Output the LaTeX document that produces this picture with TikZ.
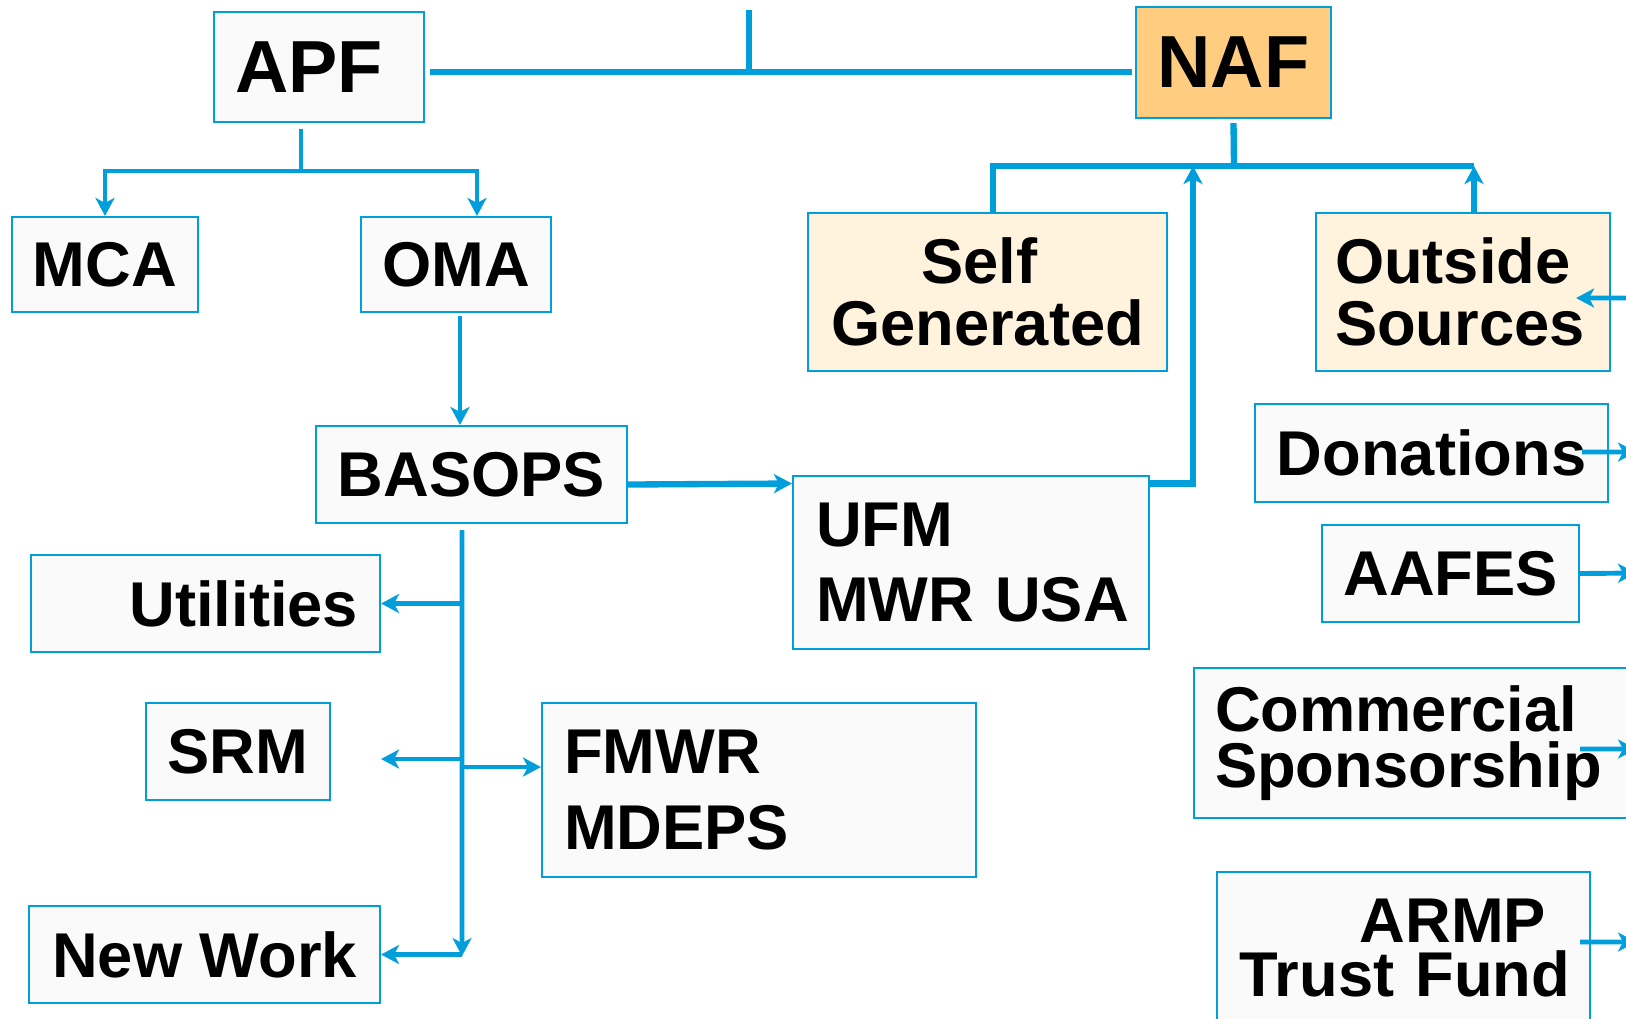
\documentclass[tikz,border=0pt]{standalone}
\usepackage{fontspec}
\setmainfont{Liberation Sans}
\usetikzlibrary{arrows.meta}
\definecolor{linkblue}{RGB}{0,158,219}
\definecolor{boxgrey}{RGB}{250,250,250}
\definecolor{nafgold}{RGB}{255,204,128}
\definecolor{selfcream}{RGB}{255,243,222}
\begin{document}
\begin{tikzpicture}[
		box/.style={draw=linkblue, fill=boxgrey, line width=0.6pt, inner sep=0pt, font=\bfseries\fontsize{18}{21.6}\selectfont},
		big/.style={font=\bfseries\fontsize{21}{24}\selectfont},
		link/.style={draw=linkblue, line width=1.4pt},
		heavy/.style={link, line width=1.8pt},
		>={Stealth[length=1.8mm,width=1.9mm,inset=0.5mm]}
	]
	\clip (0,0) rectangle (16.26,-10.18);
	\node[box, big, minimum width=2.10cm, minimum height=1.10cm] (APF) at (3.19,-0.67) {\mbox{APF\hspace{2mm}}};
	\node[box, big, fill=nafgold, minimum width=1.95cm, minimum height=1.11cm] (NAF) at (12.335,-0.625) {NAF};
	\node[box, minimum width=1.86cm, minimum height=0.95cm] (MCA) at (1.05,-2.645) {MCA};
	\node[box, minimum width=1.90cm, minimum height=0.95cm] (OMA) at (4.56,-2.645) {OMA};
	\node[box, minimum width=3.11cm, minimum height=0.97cm] (BASOPS) at (4.715,-4.745) {BASOPS};
	\node[box, minimum height=1.73cm, text width=3.10cm, inner xsep=0.23cm, align=left] (UFM) at (9.71,-5.625) {UFM\\MWR~USA};
	\node[box, fill=selfcream, minimum height=1.58cm, text width=3.19cm, inner xsep=0.2cm, align=center, font=\bfseries\fontsize{18}{17.6}\selectfont] (SelfGen) at (9.875,-2.92) {\mbox{Self\hspace{1.6mm}}\\Generated};
	\node[box, fill=selfcream, minimum height=1.58cm, text width=2.56cm, inner xsep=0.19cm, align=left, font=\bfseries\fontsize{18}{17.6}\selectfont] (Outside) at (14.63,-2.92) {Outside\\Sources};
	\node[box, minimum width=3.53cm, minimum height=0.98cm] (Donations) at (14.315,-4.53) {Donations};
	\node[box, minimum width=2.57cm, minimum height=0.97cm] (AAFES) at (14.505,-5.735) {AAFES};
	\node[box, minimum height=1.50cm, text width=4.14cm, inner xsep=0.21cm, align=left, font=\bfseries\fontsize{18}{15.9}\selectfont] (Commercial) at (14.22,-7.43) {Commercial\\Sponsorship};
	\node[box, minimum height=1.52cm, text width=3.33cm, inner xsep=0.2cm, align=right, font=\bfseries\fontsize{18}{15.4}\selectfont] (ARMP) at (14.035,-9.48) {\mbox{ARMP\hspace{2.4mm}}\\Trust Fund};
	\node[box, minimum height=0.97cm, text width=3.05cm, inner xsep=0.22cm, align=right] (Utilities) at (2.055,-6.035) {Utilities};
	\node[box, minimum width=1.84cm, minimum height=0.97cm] (SRM) at (2.38,-7.515) {SRM};
	\node[box, minimum width=3.51cm, minimum height=0.97cm] (NewWork) at (2.045,-9.545) {New Work};
	\node[box, minimum height=1.74cm, text width=3.90cm, inner xsep=0.22cm, align=left] (FMWR) at (7.59,-7.90) {FMWR\\MDEPS};
	\coordinate (top) at (7.49,-0.72);
	\coordinate (topstub) at (7.49,-0.10);
	\coordinate (apfbus) at (3.01,-1.71);
	\coordinate (nafbus) at (12.34,-1.66);
	\coordinate (ufmup) at (11.93,-1.66);
	\coordinate (trunk) at (4.62,-9.56);
	\coordinate (outsrc) at (16.6,-2.98);
	\coordinate (donout) at (16.36,-4.52);
	\coordinate (aafout) at (16.36,-5.73);
	\coordinate (comout) at (16.36,-7.49);
	\coordinate (armout) at (16.36,-9.42);
	\draw[heavy] ([xshift=0.5mm]APF.east |- top) -- ([xshift=-0.3mm]NAF.west |- top);
	\draw[heavy] (topstub) -- (top);
	\draw[link] ([yshift=-0.6mm]APF.south -| apfbus) -- (apfbus);
	\draw[link,->] (apfbus) -| (MCA.north);
	\draw[link,->] (apfbus) -| ([xshift=2.1mm]OMA.north);
	\draw[link,->] ([xshift=0.4mm,yshift=-0.3mm]OMA.south) -- ([xshift=0.4mm]OMA.south |- BASOPS.north);
	\draw[heavy,->] ([yshift=-1mm]BASOPS.east) -- ([yshift=7.9mm]UFM.west);
	\draw[heavy,->] ([yshift=7.9mm]UFM.east) -| (ufmup);
	\draw[heavy] ([yshift=-0.4mm]NAF.south) -- (nafbus);
	\draw[heavy] ([xshift=0.55mm]SelfGen.north) |- ([xshift=1.1mm]Outside.north |- nafbus);
	\draw[heavy,->] ([xshift=1.1mm]Outside.north) -- ([xshift=1.1mm]Outside.north |- nafbus);
	\draw[link,->] (outsrc) -- ([xshift=-3.5mm,yshift=-0.6mm]Outside.east);
	\draw[link,->] ([xshift=-2.7mm,yshift=0.1mm]Donations.east) -- (donout);
	\draw[link,->] (AAFES.east) -- (aafout);
	\draw[link,->] ([yshift=-0.6mm]Commercial.east -| AAFES.east) -- (comout);
	\draw[link,->] ([yshift=0.6mm]ARMP.east -| AAFES.east) -- (armout);
	\draw[link,->] ([xshift=-0.95mm,yshift=-0.6mm]BASOPS.south) -- (trunk);
	\draw[link,->] (Utilities.east -| trunk) -- (Utilities.east);
	\draw[link,->] ([yshift=-0.75mm]SRM.east -| trunk) -- ([yshift=-0.75mm]SRM.east -| Utilities.east);
	\draw[link,->] ([yshift=2.3mm]FMWR.west -| trunk) -- ([yshift=2.3mm]FMWR.west);
	\draw[link,->] (NewWork.east -| trunk) -- (NewWork.east);
\end{tikzpicture}
\end{document}
